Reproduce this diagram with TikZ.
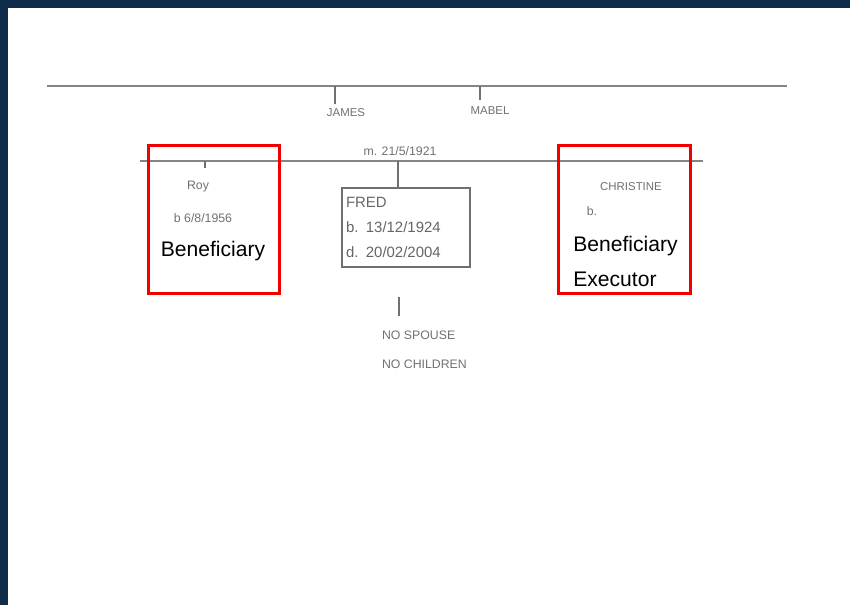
\documentclass[tikz,border=0pt]{standalone}
\usepackage{fontspec}
\setsansfont{Liberation Sans}
\usepackage{xcolor}
\usetikzlibrary{positioning}
\definecolor{cmarco}{HTML}{0F2D4A}
\definecolor{clapiz}{HTML}{707070}
\definecolor{crojo}{HTML}{F20000}
\tikzset{
  mano/.style={font=\sffamily\fontsize{6.5}{7}\selectfont, text=clapiz, inner sep=1pt},
  manog/.style={font=\sffamily\fontsize{8.5}{14}\selectfont, text=clapiz!90!black},
  linea/.style={draw=clapiz!85, line width=1.1pt},
  marca/.style={draw=clapiz, line width=0.6pt},
  caja/.style={rectangle, draw=crojo, line width=1.7pt, minimum width=2.64cm, minimum height=2.98cm},
  cajaf/.style={rectangle, draw=clapiz, line width=0.8pt, minimum width=2.56cm, minimum height=1.58cm,
    text width=2.4cm, align=left, inner sep=2pt},
  etiq/.style={font=\sffamily\fontsize{12}{14}\selectfont, text=black, inner sep=0pt},
}
\begin{document}
\begin{tikzpicture}[x=0.02cm,y=-0.02cm]
  \useasboundingbox (0,0) rectangle (850,605);
  \fill[cmarco] (0,0) rectangle (850,8);
  \fill[cmarco] (0,0) rectangle (8,605);
  % parents
  \coordinate (padresa) at (47,86);
  \coordinate (padresb) at (787,86);
  \draw[linea] (padresa) -- (padresb);
  \node[mano] (james) at (346,113) {JAMES};
  \node[mano] (mabel) at (490,111) {MABEL};
  \coordinate (tjames) at (335,86);
  \coordinate (tmabel) at (480,86);
  \draw[marca] (tjames) -- ++(0,18);
  \draw[marca] (tmabel) -- ++(0,14);
  % children
  \node[mano, font=\sffamily\fontsize{7}{8}\selectfont] (boda) at (400,151) {m. 21/5/1921};
  \coordinate (hijosa) at (140,161);
  \coordinate (hijosb) at (703,161);
  \draw[linea] (hijosa) -- (hijosb);
  % Roy
  \coordinate (troy) at (205,161);
  \draw[marca] (troy) -- ++(0,7);
  \node[mano, font=\sffamily\fontsize{7}{8}\selectfont] (roy) at (198,187) {Roy};
  \node[mano, font=\sffamily\fontsize{7}{8}\selectfont] (nroy) at (203,218) {b 6/8/1956};
  \node[etiq] (benr) at (213,251) {Beneficiary};
  \node[caja] (cajaroy) at (214,219.5) {};
  % Fred
  \node[cajaf, manog] (fred) at (406,227.5) {FRED\\b. 13/12/1924\\d. 20/02/2004};
  \coordinate (tfred) at (398,161);
  \draw[marca] (tfred) -- (tfred |- fred.north);
  \coordinate (sola) at (399,297);
  \coordinate (solb) at (399,316);
  \draw[marca] (sola) -- (solb);
  \node[mano, font=\sffamily\fontsize{7}{8}\selectfont, anchor=west] (sinesp) at (380,335) {NO SPOUSE};
  \node[mano, font=\sffamily\fontsize{7}{8}\selectfont, anchor=west] (sinhij) at (380,364) {NO CHILDREN};
  % Christine
  \node[mano] (chris) at (631,187) {CHRISTINE};
  \node[mano, font=\sffamily\fontsize{7}{8}\selectfont] (nchris) at (592,211) {b.};
  \node[etiq, anchor=west] (benc) at (573,246) {Beneficiary};
  \node[etiq, anchor=west] (ejec) at (573,279) {Executor};
  \node[caja, minimum width=2.66cm] (cajachris) at (624.5,219.5) {};
\end{tikzpicture}
\end{document}
